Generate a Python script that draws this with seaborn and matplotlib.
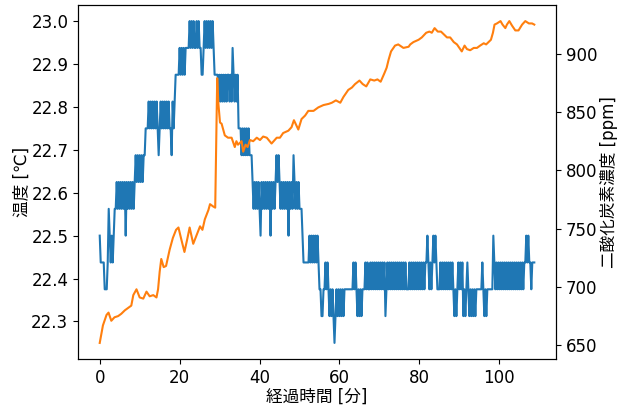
import numpy as np
import pandas as pd
import matplotlib
matplotlib.use('Agg')
import matplotlib.pyplot as plt
import seaborn as sns

plt.rcParams['font.family'] = ['DejaVu Sans', 'Noto Sans CJK JP']
plt.rcParams['font.size'] = 12

# 温度: 0.25分ごとのセンサ値 (0.0625℃刻みのレベル番号, 0 = 22.25℃)
temp_step_min = 0.25
temp_base = 22.25
temp_res = 0.0625
temp_levels = [
    4, 3, 3, 3, 3, 2, 2, 2, 3, 5, 4, 3, 4, 3, 4, 5, 5, 6, 5, 6,          # 0-5分
    5, 6, 5, 6, 5, 6, 4, 6, 5, 6, 5, 6, 5, 6, 5, 6, 7, 6, 7, 6,          # 5-10
    7, 6, 7, 6, 7, 7, 8, 8, 8, 9, 8, 9, 8, 9, 8, 9, 8, 9, 8, 7,          # 10-15
    8, 9, 8, 9, 8, 9, 8, 9, 8, 9, 8, 8, 7, 9, 8, 9, 10, 10, 10, 10,      # 15-20
    11, 10, 11, 10, 11, 10, 11, 11, 11, 11, 12, 11, 12, 11, 12, 11, 11, 12, 11, 12,  # 20-25
    11, 11, 10, 10, 11, 12, 11, 12, 11, 12, 11, 12, 11, 12, 11, 10, 10, 10, 10, 9,   # 25-30
    10, 9, 10, 9, 10, 9, 10, 9, 10, 10, 9, 10, 9, 11, 10, 9, 10, 9, 10, 8,           # 30-35
    8, 8, 7, 8, 7, 8, 7, 8, 7, 8, 7, 7, 7, 6, 5, 6, 5, 6, 5, 6,          # 35-40
    5, 4, 6, 5, 6, 5, 6, 5, 6, 5, 6, 4, 6, 5, 6, 5, 6, 7, 6, 7,          # 40-45
    6, 5, 6, 5, 6, 5, 6, 5, 6, 4, 6, 5, 6, 5, 7, 6, 5, 6, 5, 6,          # 45-50
    5, 5, 5, 4, 3, 3, 3, 3, 3, 3, 4, 3, 4, 3, 4, 3, 4, 3, 4, 3,          # 50-55
    2, 2, 1, 1, 2, 2, 3, 2, 3, 2, 1, 2, 1, 2, 1, 0, 1, 2, 1, 2,          # 55-60
    1, 2, 1, 2, 1, 2, 2, 2, 2, 2, 2, 2, 2, 2, 3, 2, 3, 2, 1, 2,          # 60-65
    1, 2, 1, 2, 2, 2, 3, 2, 3, 2, 2, 3, 2, 3, 2, 3, 2, 3, 2, 3,          # 65-70
    2, 3, 2, 3, 2, 3, 1, 2, 3, 2, 3, 2, 3, 2, 3, 2, 3, 2, 3, 2,          # 70-75
    3, 2, 3, 2, 3, 2, 3, 2, 2, 2, 3, 2, 3, 2, 3, 2, 3, 2, 3, 2,          # 75-80
    3, 2, 3, 2, 3, 2, 3, 3, 4, 3, 2, 3, 2, 3, 4, 3, 4, 3, 2, 2,          # 80-85
    2, 3, 2, 3, 2, 3, 2, 3, 2, 3, 2, 3, 2, 3, 2, 1, 2, 1, 2, 3,          # 85-90
    2, 3, 2, 3, 1, 2, 1, 2, 3, 2, 1, 2, 1, 2, 1, 2, 1, 2, 2, 2,          # 90-95
    2, 2, 2, 3, 2, 1, 2, 1, 2, 2, 2, 2, 2, 2, 4, 3, 2, 3, 2, 3,          # 95-100
    2, 3, 2, 3, 2, 3, 2, 3, 2, 3, 2, 3, 2, 3, 2, 3, 2, 3, 2, 3,          # 100-105
    2, 3, 2, 3, 2, 3, 3, 4, 3, 4, 3, 3, 2, 3, 3, 3,                      # 105-109
]

# 二酸化炭素濃度 [ppm]
co2_time = [
    0.0, 0.8, 1.7, 2.2, 2.9, 3.7, 4.6, 5.4, 6.3, 7.1, 7.9, 8.4, 9.2, 10.0, 10.9,
    11.7, 12.5, 13.4, 14.2, 14.6, 15.0, 15.4, 16.0, 16.6, 17.5, 18.3, 19.1, 19.7,
    20.4, 21.2, 21.9, 22.5, 23.4, 24.2, 25.1, 25.7, 26.3, 27.2, 27.6, 28.4, 28.9,
    29.4, 29.7, 30.1, 30.5, 31.3, 32.1, 33.0, 33.8, 34.2, 34.6, 35.5, 35.9, 36.5,
    37.0, 37.6, 38.4, 39.3, 40.1, 40.9, 41.8, 43.0, 44.3, 45.1, 45.9, 47.2, 48.0,
    48.6, 49.3, 49.7, 50.5, 51.4, 52.2, 53.5, 54.7, 56.0, 57.3, 58.1, 59.1, 60.2,
    61.0, 62.2, 63.1, 63.9, 65.0, 65.8, 66.7, 67.7, 68.7, 69.5, 70.3, 71.2, 71.8,
    72.3, 72.9, 73.9, 74.7, 76.0, 77.3, 77.7, 78.5, 79.8, 80.6, 81.7, 82.5, 83.1,
    83.8, 84.6, 85.4, 86.0, 86.9, 87.7, 88.6, 89.4, 90.0, 90.6, 91.3, 91.9, 92.7,
    93.6, 94.4, 95.2, 96.1, 96.7, 97.3, 97.9, 98.4, 98.8, 99.4, 100.3, 100.8,
    101.5, 101.9, 102.5, 103.2, 104.0, 104.8, 105.7, 106.5, 107.4, 108.2, 108.75,
]
co2_ppm = [
    652, 667, 676, 678, 671, 674, 675, 677, 680, 682, 684, 693, 698, 691, 690,
    696, 692, 693, 691, 698, 713, 724, 717, 718, 732, 742, 749, 751,
    741, 730, 741, 751, 737, 744, 752, 749, 758, 766, 771, 769, 768,
    879, 857, 841, 840, 830, 828, 828, 820, 825, 822, 825, 816, 822,
    820, 826, 825, 828, 826, 829, 828, 823, 828, 828, 832, 834, 837,
    843, 838, 835, 844, 847, 851, 851, 854, 856, 857, 858, 860, 858,
    863, 869, 871, 874, 877, 874, 872, 878, 877, 878, 876, 883, 888,
    895, 902, 907, 908, 905, 906, 908, 910, 912, 914, 918, 919, 918,
    922, 919, 919, 917, 914, 914, 910, 908, 905, 902, 907, 904, 903,
    905, 905, 907, 909, 908, 910, 912, 918, 925, 926, 928, 925,
    922, 925, 928, 924, 920, 920, 925, 928, 926, 926, 925,
]

temp = pd.DataFrame({'t': np.arange(len(temp_levels)) * temp_step_min,
                     'temp': temp_base + np.array(temp_levels) * temp_res})
co2 = pd.DataFrame({'t': co2_time, 'co2': co2_ppm})

fig = plt.figure(figsize=(6.27, 4.07), dpi=100)
ax = fig.add_subplot(111)
fig.subplots_adjust(left=0.1244, right=0.8868, bottom=0.1179, top=0.9877)

sns.lineplot(data=temp, x='t', y='temp', ax=ax, color='C0', legend=False)
ax.set_xlabel('経過時間 [分]', labelpad=1)
ax.set_ylabel('温度 [℃]', labelpad=0.5)

ax2 = ax.twinx()
sns.lineplot(data=co2, x='t', y='co2', ax=ax2, color='C1', legend=False)
ax2.set_ylabel('二酸化炭素濃度 [ppm]', labelpad=2)

fig.savefig('out.png', dpi=100)
